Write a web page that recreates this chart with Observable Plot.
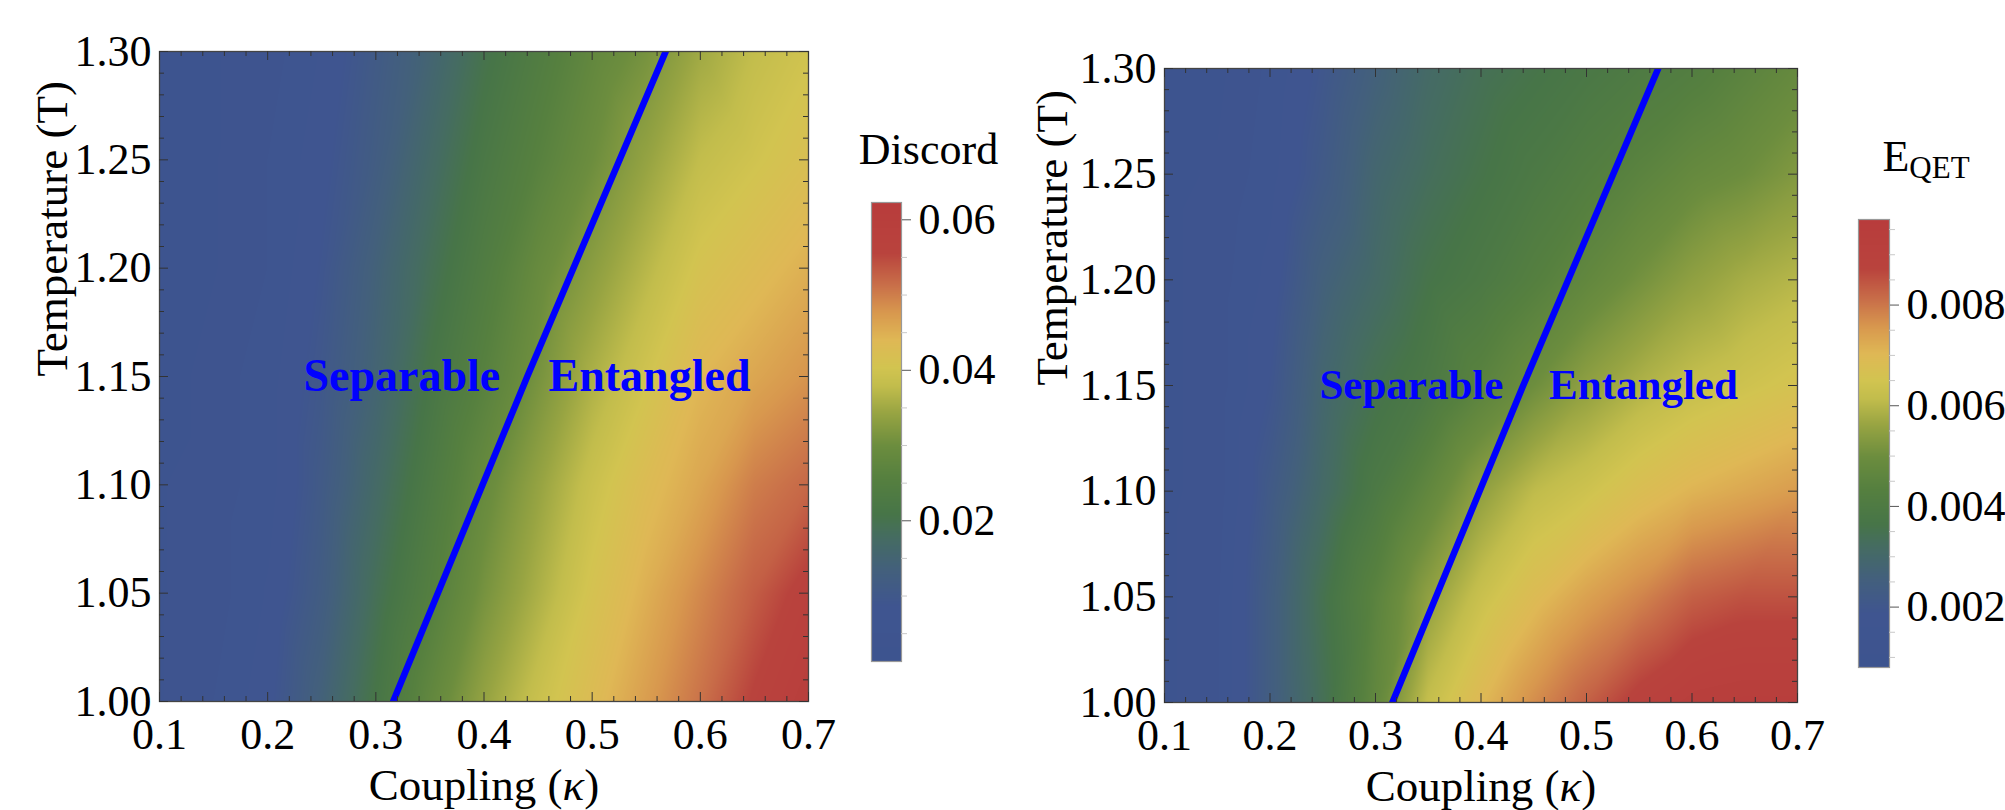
<!DOCTYPE html>
<html><head><meta charset="utf-8">
<script src="https://cdn.jsdelivr.net/npm/d3@7"></script>
<script src="https://cdn.jsdelivr.net/npm/@observablehq/plot@0.6"></script>
<style>
body{margin:0;background:#fff;width:2005px;height:810px;overflow:hidden;position:relative;font-family:"Liberation Serif",serif;}
.p{position:absolute;top:0;}
</style></head><body>
<div id="a" class="p" style="left:0px"></div>
<div id="ca" class="p" style="left:860px"></div>
<div id="b" class="p" style="left:1000px"></div>
<div id="cb" class="p" style="left:1840px"></div>
<script>
// ---------------- data ----------------
const kappa = [0.10,0.15,0.20,0.25,0.30,0.35,0.40,0.45,0.50,0.55,0.60,0.65,0.70];
const temperature = [1.00,1.05,1.10,1.15,1.20,1.25,1.30];
// discord: one row per temperature, one value per kappa
const discord = [
  [0.003,0.005,0.008,0.014,0.021,0.028,0.034,0.039,0.043,0.047,0.051,0.056,0.060],
  [0.003,0.004,0.007,0.012,0.019,0.025,0.031,0.036,0.041,0.045,0.049,0.053,0.057],
  [0.003,0.004,0.006,0.011,0.017,0.023,0.029,0.034,0.039,0.043,0.046,0.050,0.052],
  [0.002,0.004,0.006,0.010,0.015,0.021,0.026,0.031,0.036,0.040,0.044,0.046,0.048],
  [0.002,0.003,0.005,0.009,0.014,0.019,0.024,0.029,0.033,0.037,0.041,0.043,0.045],
  [0.002,0.003,0.005,0.008,0.012,0.017,0.022,0.026,0.030,0.034,0.038,0.040,0.042],
  [0.002,0.003,0.004,0.007,0.011,0.015,0.020,0.024,0.028,0.031,0.035,0.038,0.040]
];
const eqet = [
  [0.0010,0.0013,0.0024,0.0034,0.0047,0.0062,0.0070,0.0077,0.0083,0.0089,0.0093,0.0094,0.0094],
  [0.0010,0.0013,0.0024,0.0035,0.0045,0.0055,0.0063,0.0069,0.0074,0.0078,0.0083,0.0085,0.0085],
  [0.0010,0.0012,0.0022,0.0031,0.0039,0.0047,0.0055,0.0061,0.0064,0.0068,0.0071,0.0073,0.0075],
  [0.0010,0.0012,0.0019,0.0029,0.0035,0.0039,0.0045,0.0050,0.0055,0.0059,0.0062,0.0064,0.0066],
  [0.0010,0.0012,0.0017,0.0026,0.0031,0.0036,0.0039,0.0043,0.0047,0.0051,0.0055,0.0058,0.0060],
  [0.0010,0.0011,0.0015,0.0022,0.0029,0.0033,0.0036,0.0039,0.0042,0.0045,0.0048,0.0050,0.0053],
  [0.0010,0.0010,0.0014,0.0020,0.0026,0.0031,0.0034,0.0036,0.0038,0.0040,0.0042,0.0045,0.0048]
];
// separable / entangled boundary
const boundaryKappa = [0.316, 0.440, 0.568];
const boundaryT = [1.00, 1.15, 1.30];
// tick labels
const xTicks = [0.1,0.2,0.3,0.4,0.5,0.6,0.7];
const xMinor = [0.12,0.14,0.16,0.18,0.22,0.24,0.26,0.28,0.32,0.34,0.36,0.38,0.42,0.44,0.46,0.48,0.52,0.54,0.56,0.58,0.62,0.64,0.66,0.68];
const yTicks = [1.00,1.05,1.10,1.15,1.20,1.25,1.30];
const yMinor = [1.01,1.02,1.03,1.04,1.06,1.07,1.08,1.09,1.11,1.12,1.13,1.14,1.16,1.17,1.18,1.19,1.21,1.22,1.23,1.24,1.26,1.27,1.28,1.29];
const discordTicks = [0.02,0.04,0.06];
const discordMinor = [0.005,0.01,0.015,0.025,0.03,0.035,0.045,0.05,0.055];
const eqetTicks = [0.002,0.004,0.006,0.008];
const eqetMinor = [0.001,0.0015,0.0025,0.003,0.0035,0.0045,0.005,0.0055,0.0065,0.007,0.0075,0.0085,0.009,0.0095];
const discordRange = [0.0013, 0.0623];
const eqetRange = [0.0008, 0.0097];
const regionLabels = ["Separable", "Entangled"];

// ---------------- style ----------------
const FONT = '"Liberation Serif", "Times New Roman", serif';
const paletteStops  = [0, 0.12, 0.20, 0.27, 0.32, 0.40, 0.47, 0.54, 0.60, 0.64, 0.70, 0.76, 0.82, 0.89, 1];
const paletteColors = ["#3d548f","#3f5590","#43607c","#456c62","#477548","#56803f","#6c8d3e","#97a442","#c2bd4c","#d2c450","#dfb855","#d8984e","#c96f49","#b9433d","#b83c3c"];
const ramp = d3.scaleLinear().domain(paletteStops).range(paletteColors).interpolate(d3.interpolateRgb).clamp(true);

function heatPanel(rows, domain, m, labelK, labelSize) {
  const data = [];
  temperature.forEach((T, i) => kappa.forEach((k, j) => data.push({k, T, v: rows[i][j]})));
  const boundary = boundaryKappa.map((k, i) => ({k, T: boundaryT[i]}));
  const labels = regionLabels.map((t, i) => ({t, k: labelK[i], T: 1.15}));
  const W = m.left + m.w + m.right, H = m.top + m.h + m.bottom;
  const tick = "#333";
  return Plot.plot({
    width: W, height: H,
    marginLeft: m.left, marginRight: m.right, marginTop: m.top, marginBottom: m.bottom,
    style: {fontFamily: FONT, fontSize: "44px", color: "#000", background: "transparent", overflow: "visible"},
    x: {domain: [0.1, 0.7]},
    y: {domain: [1.0, 1.3]},
    color: {type: "linear", domain, interpolate: ramp},
    marks: [
      Plot.raster(data, {x: "k", y: "T", fill: "v", interpolate: "barycentric", x1: 0.1, x2: 0.7, y1: 1.0, y2: 1.3}),
      Plot.line(boundary, {x: "k", y: "T", stroke: "#0000ff", strokeWidth: 6.5, clip: true}),
      Plot.text(labels, {x: "k", y: "T", text: "t", fill: "#0000ff", fontWeight: "bold", fontSize: labelSize, fontFamily: FONT}),
      Plot.frame({stroke: "#444", strokeWidth: 1.3}),
      Plot.ruleX(xTicks, {x: d => d, insetTop: m.h - 9, stroke: tick}),
      Plot.ruleX(xTicks, {x: d => d, insetBottom: m.h - 9, stroke: tick}),
      Plot.ruleX(xMinor, {x: d => d, insetTop: m.h - 5, stroke: tick}),
      Plot.ruleX(xMinor, {x: d => d, insetBottom: m.h - 5, stroke: tick}),
      Plot.ruleY(yTicks, {y: d => d, insetRight: m.w - 9, stroke: tick}),
      Plot.ruleY(yTicks, {y: d => d, insetLeft: m.w - 9, stroke: tick}),
      Plot.ruleY(yMinor, {y: d => d, insetRight: m.w - 5, stroke: tick}),
      Plot.ruleY(yMinor, {y: d => d, insetLeft: m.w - 5, stroke: tick}),
      Plot.axisX({ticks: xTicks, tickSize: 0, tickPadding: 16, tickFormat: d3.format(".1f"), label: null}),
      Plot.axisY({ticks: yTicks, tickSize: 0, tickPadding: 8, tickFormat: d3.format(".2f"), label: null}),
      Plot.text(["Coupling (κ)"], {frameAnchor: "bottom", dy: 98, fontSize: 45, fontFamily: FONT, fill: "#000"}),
      Plot.text(["Temperature (T)"], {frameAnchor: "left", dx: -m.left + 52, rotate: -90, fontSize: 45, fontFamily: FONT, fill: "#000"})
    ]
  });
}

function colorBar(domain, ticks, minor, fmt, m, title, titleDx, titleDy) {
  const W = m.left + m.w + m.right, H = m.top + m.h + m.bottom;
  return Plot.plot({
    width: W, height: H,
    marginLeft: m.left, marginRight: m.right, marginTop: m.top, marginBottom: m.bottom,
    style: {fontFamily: FONT, fontSize: "44px", color: "#000", background: "transparent", overflow: "visible"},
    x: {domain: [0, 1], axis: null},
    y: {domain, axis: null},
    color: {type: "linear", domain, interpolate: ramp},
    marks: [
      Plot.raster({x1: 0, x2: 1, y1: domain[0], y2: domain[1], fill: (x, y) => y}),
      Plot.frame({stroke: "#999", strokeWidth: 1.2}),
      Plot.ruleY(minor, {y: d => d, insetLeft: m.w, insetRight: -6, stroke: "#c8c8c8"}),
      Plot.axisY({anchor: "right", ticks, tickSize: 9, tickPadding: 8, tickFormat: fmt, label: null, stroke: "#555"}),
      Plot.text([title], {frameAnchor: "top", dx: titleDx, dy: titleDy, fontSize: 44, fontFamily: FONT, fill: "#000"})
    ]
  });
}

document.getElementById("a").append(heatPanel(discord, discordRange, {left: 159, right: 52, top: 51, bottom: 109, w: 649, h: 650}, [0.324, 0.553], 46));
document.getElementById("b").append(heatPanel(eqet, eqetRange, {left: 164, right: 43, top: 68, bottom: 108, w: 633, h: 634}, [0.334, 0.554], 43));
document.getElementById("ca").append(colorBar(discordRange, discordTicks, discordMinor, d3.format(".2f"), {left: 11, right: 99, top: 202, bottom: 149, w: 30, h: 459}, "Discord", 42, -70));
document.getElementById("cb").append(colorBar(eqetRange, eqetTicks, eqetMinor, d3.format(".3f"), {left: 18, right: 116, top: 219, bottom: 143, w: 31, h: 448}, "EQET", 52, -80));

// rich text: italic kappa and subscript QET
d3.selectAll("text").each(function() {
  const el = d3.select(this);
  const t = this.textContent;
  if (t === "Coupling (κ)") {
    const target = el.select("tspan").empty() ? el : el.select("tspan");
    target.text("Coupling (");
    target.append("tspan").attr("font-style", "italic").text("κ");
    target.append("tspan").text(")");
  } else if (t === "EQET") {
    const target = el.select("tspan").empty() ? el : el.select("tspan");
    target.text("E");
    target.append("tspan").attr("font-size", "31px").attr("dy", "0.25em").text("QET");
  }
});
</script>
</body></html>
